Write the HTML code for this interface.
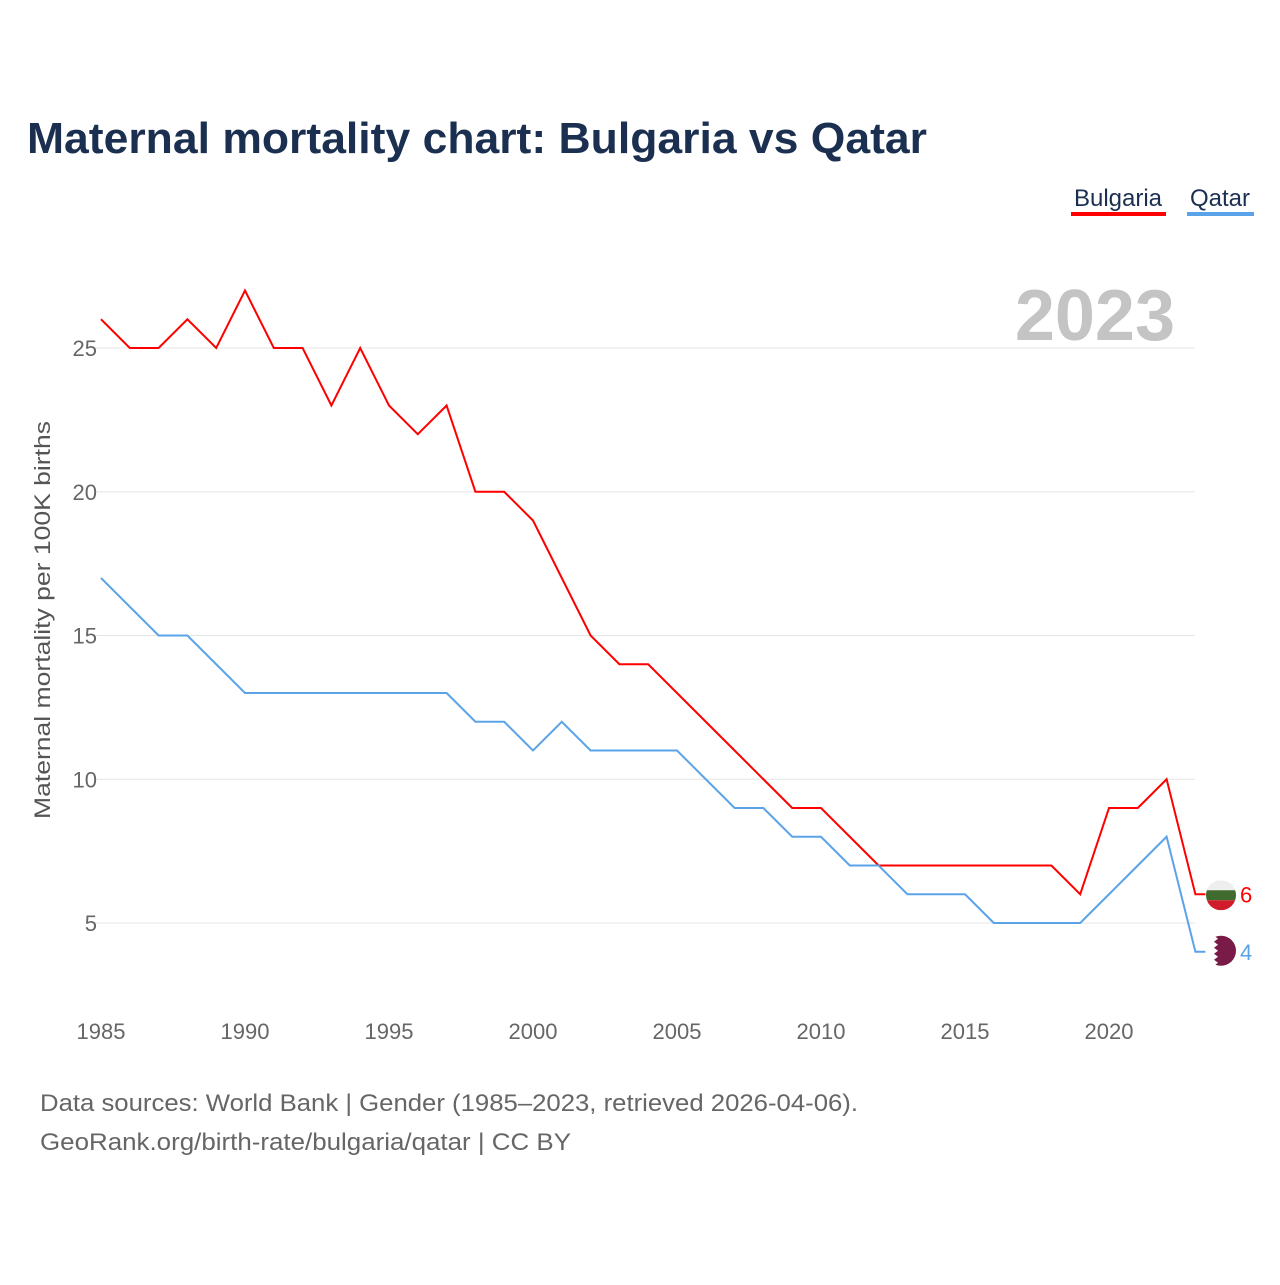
<!DOCTYPE html>
<html><head><meta charset="utf-8"><style>
body{margin:0;background:#fff;font-family:"Liberation Sans",sans-serif;}
svg text{font-family:"Liberation Sans",sans-serif;}
</style></head><body>
<svg width="1280" height="1280" xmlns="http://www.w3.org/2000/svg">
<text x="27" y="153" font-size="44" font-weight="bold" fill="#1b3050" textLength="900" lengthAdjust="spacingAndGlyphs">Maternal mortality chart: Bulgaria vs Qatar</text>
<g><text x="1118" y="206" font-size="24" fill="#1b3050" text-anchor="middle">Bulgaria</text><rect x="1071" y="212" width="95" height="4" fill="#ff0000"/></g>
<g><text x="1220" y="206" font-size="24" fill="#1b3050" text-anchor="middle">Qatar</text><rect x="1187" y="212" width="67" height="4" fill="#5ba3e8"/></g>
<text x="1175" y="340" font-size="72" font-weight="bold" fill="#c4c4c4" text-anchor="end">2023</text>
<g id="grid"></g><g id="series"></g>
<text transform="translate(50,620) rotate(-90)" font-size="22" fill="#555" text-anchor="middle" textLength="398" lengthAdjust="spacingAndGlyphs">Maternal mortality per 100K births</text>
<text x="40" y="1111" font-size="24" fill="#666" textLength="818" lengthAdjust="spacingAndGlyphs">Data sources: World Bank | Gender (1985–2023, retrieved 2026-04-06).</text>
<text x="40" y="1150" font-size="24" fill="#666" textLength="531" lengthAdjust="spacingAndGlyphs">GeoRank.org/birth-rate/bulgaria/qatar | CC BY</text>
</svg>
<script>
const years=[];for(let y=1985;y<=2023;y++)years.push(y);
const bulgaria=[26,25,25,26,25,27,25,25,23,25,23,22,23,20,20,19,17,15,14,14,13,12,11,10,9,9,8,7,7,7,7,7,7,7,6,9,9,10,6];
const qatar=[17,16,15,15,14,13,13,13,13,13,13,13,13,12,12,11,12,11,11,11,11,10,9,9,8,8,7,7,6,6,6,5,5,5,5,6,7,8,4];
const yTicks=[5,10,15,20,25];
const xTicks=[1985,1990,1995,2000,2005,2010,2015,2020];
const NS="http://www.w3.org/2000/svg";
const xs=y=>101+(y-1985)*28.8;
const ys=v=>1066.75-v*28.75;
function mk(t,a,p){const e=document.createElementNS(NS,t);for(const k in a)e.setAttribute(k,a[k]);p.appendChild(e);return e;}
const g=document.getElementById('grid'),s=document.getElementById('series');
yTicks.forEach(v=>{
const l=mk('line',{x1:95,x2:1195,y1:ys(v),y2:ys(v),stroke:'#e6e6e6'},g);


const t=mk('text',{x:97,y:ys(v)+8,'font-size':22,fill:'#666','text-anchor':'end'},g);t.textContent=v;


});
xTicks.forEach(v=>{
const t=mk('text',{x:xs(v),y:1039,'font-size':22,fill:'#666','text-anchor':'middle'},g);t.textContent=v;


});
function series(vals,color,name,flag){
let d=vals.map((v,i)=>(i?'L':'M')+xs(years[i])+' '+ys(v)).join(' ');
const last=vals[vals.length-1];
d+=' L'+(xs(2023)+10)+' '+ys(last);
const p=mk('path',{d:d,fill:'none',stroke:color,'stroke-width':2},s);


const cy=ys(last)+(name==='bulgaria'?1:-1);
const c=mk('g',{},s);


if(flag==='bg'){
mk('clipPath',{id:'cbg'},c).appendChild(document.createElementNS(NS,'circle')).setAttribute('r',15);
c.lastChild.firstChild.setAttribute('cx',1221);c.lastChild.firstChild.setAttribute('cy',cy);
mk('rect',{x:1206,y:cy-15,width:30,height:10,fill:'#eeeeee','clip-path':'url(#cbg)'},c);
mk('rect',{x:1206,y:cy-5,width:30,height:10,fill:'#3f6b2f','clip-path':'url(#cbg)'},c);
mk('rect',{x:1206,y:cy+5,width:30,height:10,fill:'#d01c2a','clip-path':'url(#cbg)'},c);
}else{
mk('circle',{cx:1221,cy:cy,r:15,fill:'#7a1a46'},c);
mk('path',{d:`M1206 ${cy-15} h8 l4 3 -4 3 4 3 -4 3 4 3 -4 3 4 3 -4 3 4 3 -4 3 h-8z`,fill:'#fff'},c);
}
const t=mk('text',{x:1240,y:ys(last)+8,'font-size':22,fill:color},s);t.textContent=last;


}
series(bulgaria,'#ff0000','bulgaria','bg');
series(qatar,'#5ba3e8','qatar','qa');
</script>
</body></html>
